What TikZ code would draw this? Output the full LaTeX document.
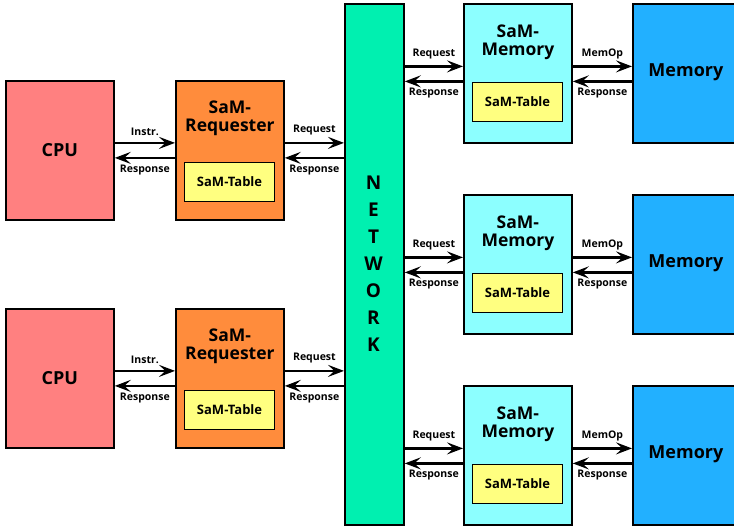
\documentclass[tikz,border=0pt]{standalone}
\usepackage{fontspec}
\setmainfont{Open Sans}
\usetikzlibrary{arrows.meta,calc}
\definecolor{cpured}{HTML}{FF8080}
\definecolor{reqorange}{HTML}{FF8C3C}
\definecolor{tableyellow}{HTML}{FFFF80}
\definecolor{netgreen}{HTML}{00F0B0}
\definecolor{smemcyan}{HTML}{8CFFFF}
\definecolor{memblue}{HTML}{22B0FF}
\tikzset{
  blk/.style={draw=black,line width=1.8pt,anchor=north west,inner sep=0pt,
    minimum width=108pt,minimum height=139pt},
  cpubox/.style={blk,fill=cpured},
  reqbox/.style={blk,fill=reqorange},
  smembox/.style={blk,fill=smemcyan},
  membox/.style={blk,fill=memblue,minimum width=110pt},
  tablebox/.style={draw=black,line width=1.1pt,fill=tableyellow,anchor=north west,
    inner sep=0pt,minimum width=90pt,minimum height=39pt,
    font=\fontsize{13}{14}\selectfont\bfseries},
  title/.style={font=\fontsize{17.5}{18}\selectfont\bfseries,align=center,inner sep=0pt},
  bigtitle/.style={title,font=\fontsize{18}{19}\selectfont\bfseries},
  netletter/.style={title,font=\fontsize{19}{20}\selectfont\bfseries},
  lbl/.style={font=\fontsize{10.5}{11}\selectfont\bfseries,inner sep=0pt},
  arr/.style={line width=2.8pt,-{Stealth[length=16pt,width=12pt,inset=6.5pt]}},
}
\begin{document}
\begin{tikzpicture}[x=1pt,y=-1pt]
\useasboundingbox (0,0) rectangle (734,527);
\begin{scope}
\clip (0,0) rectangle (734,527);
% network column
\node[blk,fill=netgreen,minimum width=59pt,minimum height=521pt] (net) at (344,3) {};
\foreach \ch [count=\i] in {N,E,T,W,O,R,K}
  \node[netletter] (n\i) at (373.5,{183+27*(\i-1)}) {\ch};

% requester side
\foreach \k/\y in {1/80,2/308}{
  \node[cpubox] (cpu\k) at (5,\y) {};
  \node[bigtitle] (cput\k) at (cpu\k.center) {CPU};
  \node[reqbox] (req\k) at (175,\y) {};
  \node[title,anchor=north] (reqt\k) at ($(req\k.north)+(0,21)$) {SaM-\\Requester};
  \node[tablebox] (rtab\k) at (184,\y+82) {SaM-Table};
  \draw[arr] ([yshift=7.5pt]cpu\k.east) -- node[lbl,above=6pt] (li\k) {Instr.} ([yshift=7.5pt]req\k.west);
  \draw[arr] ([yshift=-7.5pt]req\k.west) -- node[lbl,below=5.5pt] (lr\k) {Response} ([yshift=-7.5pt]cpu\k.east);
  \draw[arr] ([yshift=7.5pt]req\k.east) -- node[lbl,above=6pt] (lq\k) {Request} ([yshift=7.5pt]req\k.east -| net.west);
  \draw[arr] ([yshift=-7.5pt]req\k.east -| net.west) -- node[lbl,below=5.5pt] (lp\k) {Response} ([yshift=-7.5pt]req\k.east);
}

% memory side
\foreach \k/\y in {1/3,2/194,3/385}{
  \node[smembox] (smem\k) at (463,\y) {};
  \node[title,anchor=north] (smemt\k) at ($(smem\k.north)+(0,22)$) {SaM-\\Memory};
  \node[tablebox] (mtab\k) at (472,\y+79) {SaM-Table};
  \node[membox] (mem\k) at (632,\y) {};
  \node[bigtitle] (memt\k) at ($(mem\k.center)+(-2,-1)$) {Memory};
  \draw[arr] ([yshift=7pt]smem\k.west -| net.east) -- node[lbl,above=6pt] (mq\k) {Request} ([yshift=7pt]smem\k.west);
  \draw[arr] ([yshift=-8pt]smem\k.west) -- node[lbl,below=5.5pt] (mp\k) {Response} ([yshift=-8pt]smem\k.west -| net.east);
  \draw[arr] ([yshift=7pt]smem\k.east) -- node[lbl,above=6pt] (mo\k) {MemOp} ([yshift=7pt]mem\k.west);
  \draw[arr] ([yshift=-8pt]mem\k.west) -- node[lbl,below=5.5pt] (mr\k) {Response} ([yshift=-8pt]smem\k.east);
}
\end{scope}
\end{tikzpicture}
\end{document}
